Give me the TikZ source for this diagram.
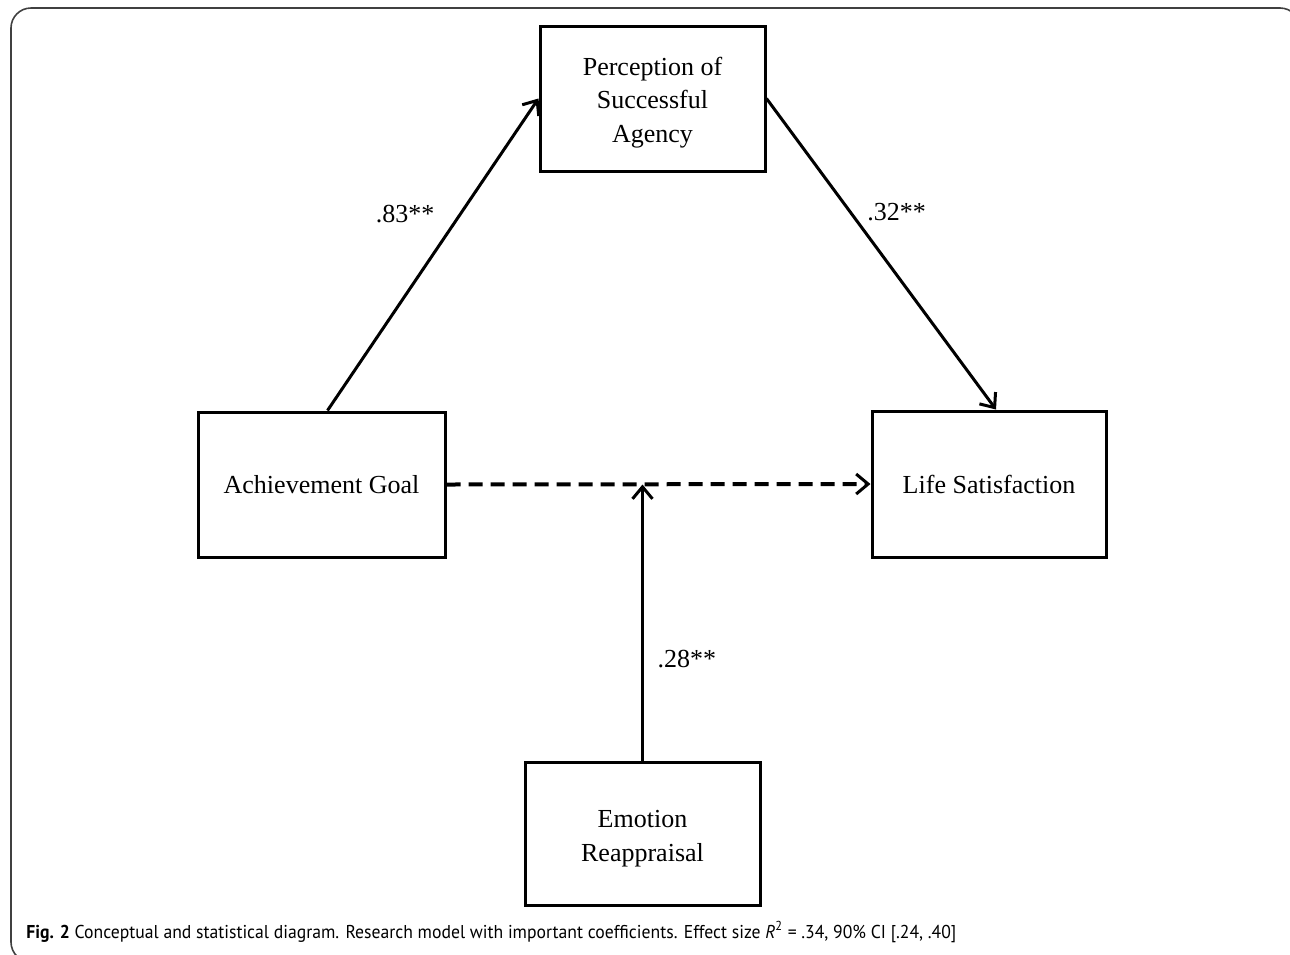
\documentclass[tikz,border=0pt]{standalone}
\usepackage{fontspec}
\setmainfont{Liberation Serif}
\newfontfamily\capfont[FakeStretch=0.95]{PT Sans}
\usetikzlibrary{arrows.meta, calc}

\tikzset{
  varbox/.style={draw, line width=1.5pt, align=center, inner sep=0pt,
    font=\fontsize{13}{16.75}\selectfont},
  path/.style={line width=1.5pt, -{Straight Barb[length=6pt,width=10pt,line width=1.5pt]}},
  coef/.style={font=\fontsize{13}{16}\selectfont}
}

\begin{document}
\begin{tikzpicture}[x=0.5pt, y=-0.5pt]
      \useasboundingbox (0,0) rectangle (1290,954);
      \draw[line width=0.8pt, black!75, rounded corners=10pt] (11,8) rectangle (1300,962);
      \node[varbox, minimum width=123.5pt, minimum height=72.5pt] (0) at (321.5,484.5) {Achievement Goal};
      \node[varbox, minimum width=112.5pt, minimum height=72.5pt] (1) at (652.5,98.5) {\rule{0pt}{13pt}Perception of\\Successful\\Agency};
      \node[varbox, minimum width=117pt, minimum height=73pt] (2) at (989,484) {Life Satisfaction};
      \node[varbox, minimum width=117.5pt, minimum height=71.5pt] (3) at (642.5,833.5) {\rule{0pt}{14pt}Emotion\\Reappraisal};
      \coordinate (4) at (3.north |- 0.east);
      \draw[path] ([xshift=3pt]0.north) -- node[coef, pos=.63, left=9pt] {.83**} (1.west);
      \draw[path] (1.east) -- node[coef, pos=.365, right=4.5pt] {.32**} ([xshift=3.5pt]2.north);
      \draw[path, line width=2pt, dash pattern=on 7pt off 4pt] (0.east) -- (2.west);
      \draw[path] (3.north) -- node[coef, pos=.367, right=3.5pt] {.28**} (4);
      \node[anchor=base west, inner sep=0pt, font=\capfont\fontsize{9.3}{11}\selectfont] (5) at (26,938)
        {\textbf{Fig. 2} Conceptual and statistical diagram. Research model with important coefficients. Effect size {\itshape R}\textsuperscript{2} = .34, 90\% CI [.24, .40]};
    \end{tikzpicture}
\end{document}
